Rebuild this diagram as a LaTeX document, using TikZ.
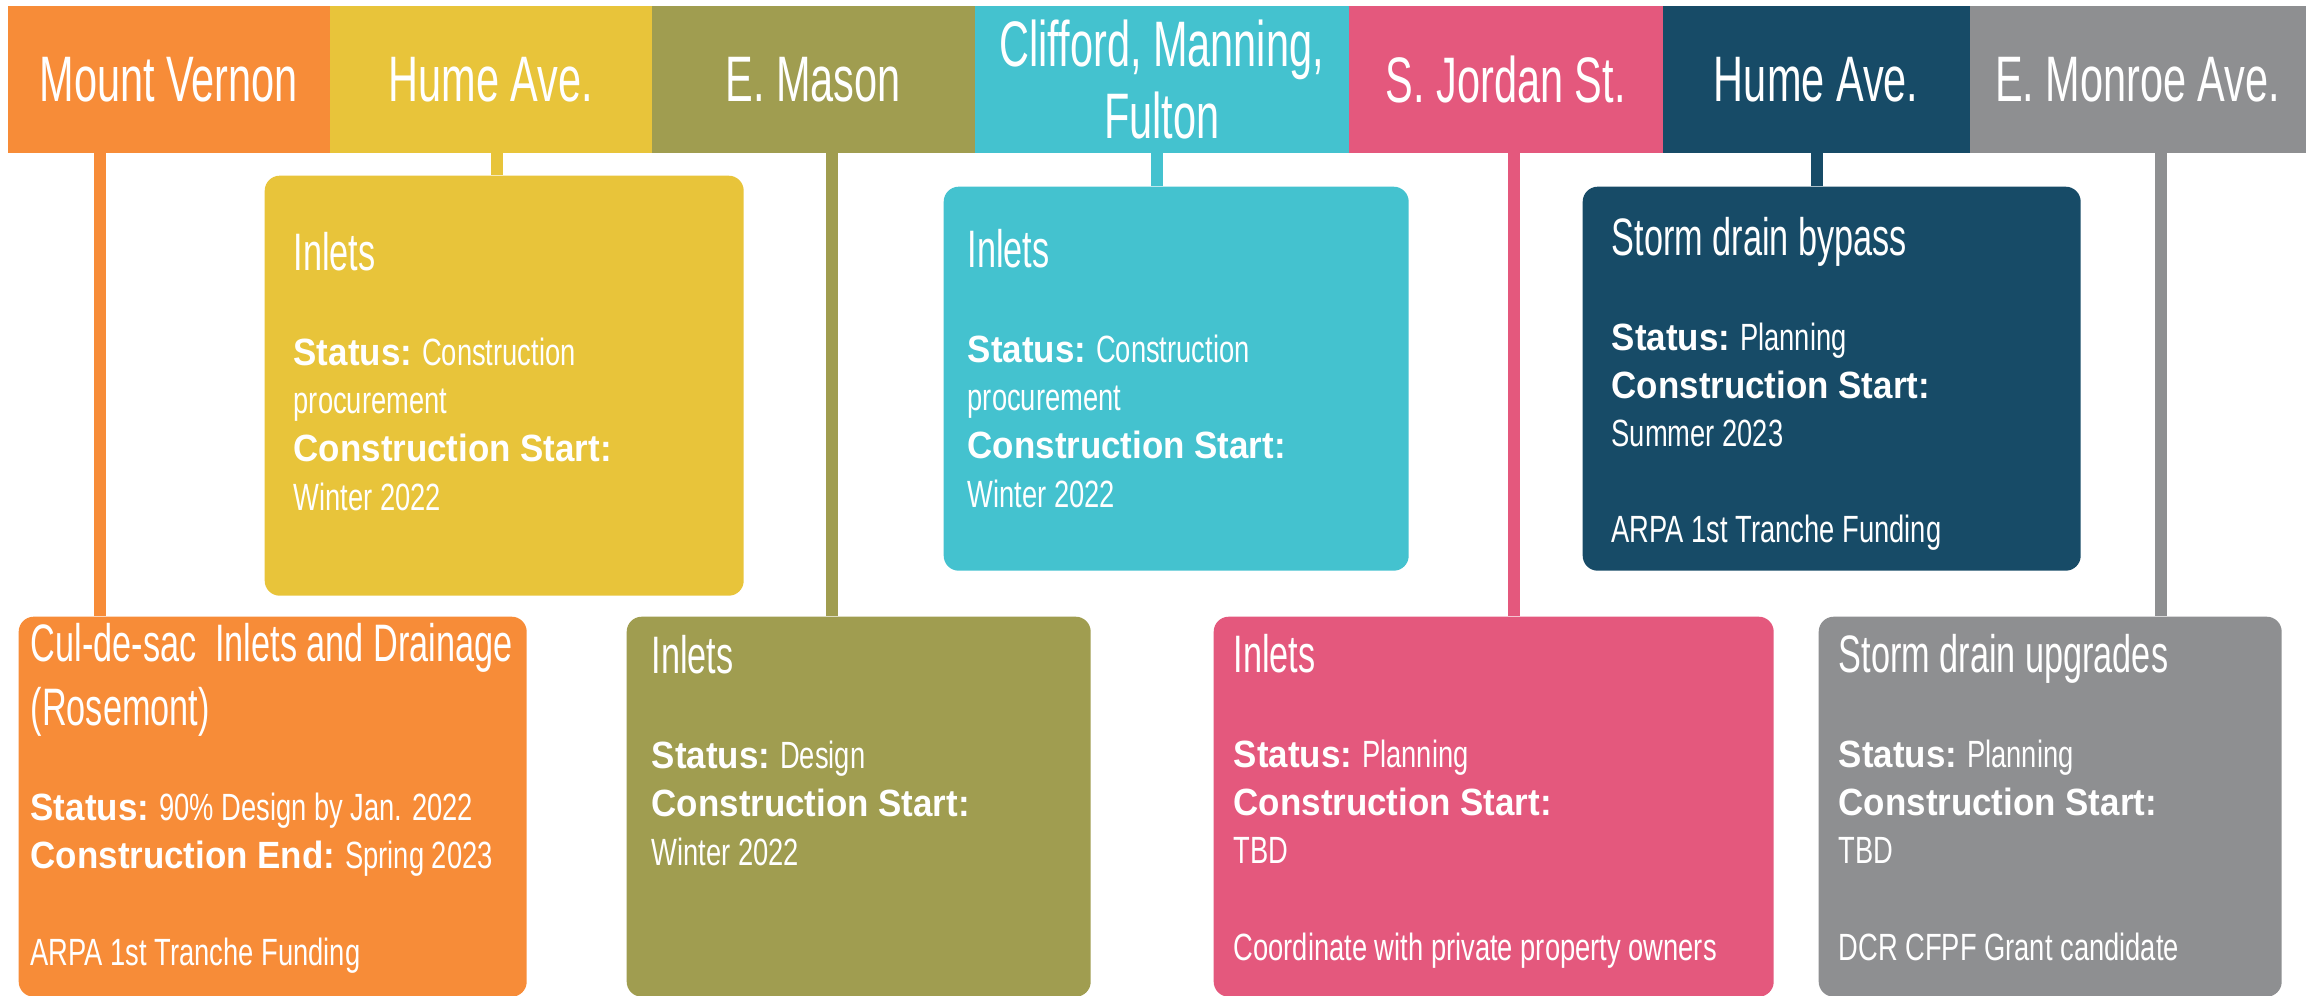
\documentclass[tikz,border=0pt]{standalone}
\usepackage{fontspec}
\setmainfont[FakeStretch=0.72]{Liberation Sans}
\newfontfamily\hdfont[FakeStretch=0.645]{Liberation Sans}
\newfontfamily\ttlfont[FakeStretch=0.65]{Liberation Sans}
\newfontfamily\bfont[FakeStretch=0.92]{Liberation Sans Bold}
\newcommand\ttl[1]{{\ttlfont\fontsize{15}{17}\selectfont #1}}
\newcommand\lbl[1]{{\bfont #1}}

\definecolor{corange}{HTML}{F78C38}
\definecolor{cyellow}{HTML}{E8C43A}
\definecolor{colive}{HTML}{A09D50}
\definecolor{ccyan}{HTML}{44C2CF}
\definecolor{cpink}{HTML}{E4587D}
\definecolor{cnavy}{HTML}{174B67}
\definecolor{cgray}{HTML}{8E8F91}

\tikzset{
  hdr/.style={fill=#1, text=white, anchor=north west, minimum height=1.47cm,
    inner sep=0pt, align=center, font=\hdfont\fontsize{18.3}{20.5}\selectfont},
  card/.style={fill=#1, rounded corners=0.15cm, anchor=north west, inner sep=0pt},
  conn/.style={draw=#1, line width=0.12cm},
  txt/.style={text=white, anchor=base west, align=left, inner sep=0pt,
    font=\fontsize{10.8}{13.66}\selectfont}
}

\begin{document}
\begin{tikzpicture}
    \useasboundingbox (0,0) rectangle (23.11,-9.96);

    % street names
    \node[hdr=corange, minimum width=3.22cm] (h1) at (0.07,-0.05) {Mount Vernon};
    \node[hdr=cyellow, minimum width=3.22cm] (h2) at (3.29,-0.05) {Hume Ave.};
    \node[hdr=colive, minimum width=3.23cm] (h3) at (6.51,-0.05) {E. Mason};
    \node[hdr=ccyan, minimum width=3.74cm] (h4) at (9.74,-0.05) {Clifford, Manning,\\Fulton};
    \node[hdr=cpink, minimum width=3.14cm] (h5) at (13.48,-0.05) {S. Jordan St.};
    \node[hdr=cnavy, minimum width=3.07cm] (h6) at (16.62,-0.05) {Hume Ave.};
    \node[hdr=cgray, minimum width=3.36cm] (h7) at (19.69,-0.05) {E. Monroe Ave.};

    % project cards
    \node[card=corange, minimum width=5.08cm, minimum height=3.80cm] (b1) at (0.18,-6.16) {};
    \node[card=cyellow, minimum width=4.79cm, minimum height=4.20cm] (b2) at (2.64,-1.75) {};
    \node[card=colive, minimum width=4.64cm, minimum height=3.80cm] (b3) at (6.26,-6.16) {};
    \node[card=ccyan, minimum width=4.65cm, minimum height=3.84cm] (b4) at (9.43,-1.86) {};
    \node[card=cpink, minimum width=5.60cm, minimum height=3.80cm] (b5) at (12.13,-6.16) {};
    \node[card=cnavy, minimum width=4.98cm, minimum height=3.84cm] (b6) at (15.82,-1.86) {};
    \node[card=cgray, minimum width=4.63cm, minimum height=3.80cm] (b7) at (18.18,-6.16) {};

    \draw[conn=corange] ([xshift=0.93cm]h1.south west) coordinate (c1) -- (c1 |- b1.north);
    \draw[conn=cyellow] ([xshift=1.68cm]h2.south west) coordinate (c2) -- (c2 |- b2.north);
    \draw[conn=colive] ([xshift=1.81cm]h3.south west) coordinate (c3) -- (c3 |- b3.north);
    \draw[conn=ccyan] ([xshift=1.83cm]h4.south west) coordinate (c4) -- (c4 |- b4.north);
    \draw[conn=cpink] ([xshift=1.66cm]h5.south west) coordinate (c5) -- (c5 |- b5.north);
    \draw[conn=cnavy] ([xshift=1.55cm]h6.south west) coordinate (c6) -- (c6 |- b6.north);
    \draw[conn=cgray] ([xshift=1.92cm]h7.south west) coordinate (c7) -- (c7 |- b7.north);

    % card texts, placed at the baseline of their last line
    \node[txt] (t1) at (0.30,-9.65) {\ttl{Cul-de-sac\ \ Inlets and Drainage}\\[3.4pt]
      \ttl{(Rosemont)}\\[13.4pt]
      \lbl{Status:} 90\% Design by Jan. 2022\\
      \lbl{Construction End:} Spring 2023\\[13.66pt]
      ARPA 1st Tranche Funding};
    \node[txt] (t2) at (2.93,-5.10) {\ttl{Inlets}\\[13.4pt]
      \lbl{Status:} Construction\\ procurement\\
      \lbl{Construction Start:}\\ Winter 2022};
    \node[txt] (t3) at (6.51,-8.65) {\ttl{Inlets}\\[13.4pt]
      \lbl{Status:} Design\\
      \lbl{Construction Start:}\\ Winter 2022};
    \node[txt] (t4) at (9.67,-5.07) {\ttl{Inlets}\\[13.4pt]
      \lbl{Status:} Construction\\ procurement\\
      \lbl{Construction Start:}\\ Winter 2022};
    \node[txt] (t5) at (12.33,-9.60) {\ttl{Inlets}\\[13.4pt]
      \lbl{Status:} Planning\\
      \lbl{Construction Start:}\\ TBD\\[13.66pt]
      Coordinate with private property owners};
    \node[txt] (t6) at (16.11,-5.43) {\ttl{Storm drain bypass}\\[13.4pt]
      \lbl{Status:} Planning\\
      \lbl{Construction Start:}\\ Summer 2023\\[13.66pt]
      ARPA 1st Tranche Funding};
    \node[txt] (t7) at (18.38,-9.60) {\ttl{Storm drain upgrades}\\[13.4pt]
      \lbl{Status:} Planning\\
      \lbl{Construction Start:}\\ TBD\\[13.66pt]
      DCR CFPF Grant candidate};
\end{tikzpicture}
\end{document}
